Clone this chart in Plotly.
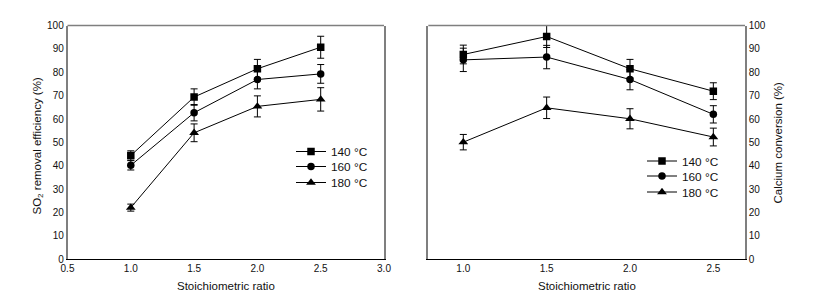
import plotly.graph_objects as go

ratio = [1.0, 1.5, 2.0, 2.5]
temps = ["140 °C", "160 °C", "180 °C"]
symbols = ["square", "circle", "triangle-up"]

so2_140 = [44.4, 69.4, 81.5, 90.7]
so2_160 = [40.2, 62.7, 76.9, 79.3]
so2_180 = [22.1, 54.1, 65.4, 68.4]
so2_err_140 = [2.0, 3.5, 4.0, 4.7]
so2_err_160 = [2.0, 3.5, 4.0, 4.0]
so2_err_180 = [1.5, 3.8, 4.5, 5.0]

ca_140 = [87.6, 95.3, 81.5, 71.9]
ca_160 = [85.3, 86.5, 76.9, 62.0]
ca_180 = [50.1, 64.8, 60.1, 52.3]
ca_err_140 = [4.0, 4.7, 4.0, 3.6]
ca_err_160 = [5.0, 5.0, 4.4, 3.7]
ca_err_180 = [3.3, 4.6, 4.3, 3.8]

so2 = [so2_140, so2_160, so2_180]
so2_err = [so2_err_140, so2_err_160, so2_err_180]
ca = [ca_140, ca_160, ca_180]
ca_err = [ca_err_140, ca_err_160, ca_err_180]

y_ticks = list(range(0, 101, 10))
x_ticks_left = [0.5, 1.0, 1.5, 2.0, 2.5, 3.0]
x_ticks_right = [1.0, 1.5, 2.0, 2.5]

FONT = "Liberation Sans, Arial, sans-serif"
TXT = "#111111"
FRAME = "#7f7f7f"

W, H = 818, 307
OX, OY = 8, 8  # page body margin offset


def px(x):
    return (x - OX) / W


def py(y):
    return 1 - (y - OY) / H


xl = [px(67.5), px(384.0)]
xr = [px(428.3), px(745.0)]
yd = [py(259.3), py(25.5)]

fig = go.Figure()

legend_names_left = ["legend", "legend2", "legend3"]
legend_names_right = ["legend4", "legend5", "legend6"]
marker_sizes = [7.5, 7.5, 8.5]

for i in range(3):
    fig.add_trace(go.Scatter(
        x=ratio, y=so2[i], mode="lines+markers", name=temps[i],
        line=dict(color="black", width=1),
        marker=dict(symbol=symbols[i], size=marker_sizes[i], color="black"),
        error_y=dict(type="data", array=so2_err[i], color="black", thickness=1, width=3.5),
        xaxis="x", yaxis="y", legend=legend_names_left[i],
    ))
for i in range(3):
    fig.add_trace(go.Scatter(
        x=ratio, y=ca[i], mode="lines+markers", name=temps[i],
        line=dict(color="black", width=1),
        marker=dict(symbol=symbols[i], size=marker_sizes[i], color="black"),
        error_y=dict(type="data", array=ca_err[i], color="black", thickness=1, width=3.5),
        xaxis="x2", yaxis="y2", legend=legend_names_right[i],
    ))

tickfont = dict(family=FONT, size=10, color=TXT)
TITLE_SIZE = 11.5
LEG_SIZE = 11.8

layout = dict(
    width=W, height=H,
    margin=dict(l=0, r=0, t=0, b=0, autoexpand=False),
    paper_bgcolor="white", plot_bgcolor="white",
    showlegend=True,
    font=dict(family=FONT, color=TXT),
    xaxis=dict(domain=xl, range=[0.5, 3.0], tickvals=x_ticks_left,
               ticktext=[f"{v:.1f}" for v in x_ticks_left], automargin=False,
               showgrid=False, zeroline=False, showline=True, linecolor="black",
               linewidth=1, ticks="", tickfont=tickfont, anchor="y"),
    yaxis=dict(domain=yd, range=[0, 100], tickvals=y_ticks, automargin=False,
               showgrid=False, zeroline=False, showline=True, linecolor=FRAME,
               linewidth=1.5, mirror=True, ticks="", tickfont=tickfont, anchor="x"),
    xaxis2=dict(domain=xr, range=[0.79, 2.69], tickvals=x_ticks_right,
                ticktext=[f"{v:.1f}" for v in x_ticks_right], automargin=False,
                showgrid=False, zeroline=False, showline=True, linecolor="black",
                linewidth=1, ticks="", tickfont=tickfont, anchor="y2"),
    yaxis2=dict(domain=yd, range=[0, 100], tickvals=y_ticks, side="right", automargin=False,
                showgrid=False, zeroline=False, showline=True, linecolor=FRAME,
                linewidth=1.5, mirror=True, ticks="", tickfont=tickfont, anchor="x2"),
)

left_rows = [151.5, 166.5, 182.5]
right_rows = [161.0, 176.0, 192.0]
for i in range(3):
    layout[legend_names_left[i]] = dict(
        x=px(291), y=py(left_rows[i]), xanchor="left", yanchor="middle",
        bgcolor="rgba(0,0,0,0)", font=dict(family=FONT, size=LEG_SIZE, color=TXT))
    layout[legend_names_right[i]] = dict(
        x=px(642), y=py(right_rows[i]), xanchor="left", yanchor="middle",
        bgcolor="rgba(0,0,0,0)", font=dict(family=FONT, size=LEG_SIZE, color=TXT))

fig.update_layout(**layout)

fig.add_shape(type="line", xref="x domain", yref="y domain", x0=0, x1=1, y0=1, y1=1,
              line=dict(color=FRAME, width=1.5))
fig.add_shape(type="line", xref="x2 domain", yref="y2 domain", x0=0, x1=1, y0=1, y1=1,
              line=dict(color=FRAME, width=1.5))

fig.add_annotation(text="Stoichiometric ratio", xref="x domain", yref="paper",
                   x=0.5, y=py(286), showarrow=False, yanchor="middle",
                   font=dict(family=FONT, size=TITLE_SIZE, color=TXT))
fig.add_annotation(text="Stoichiometric ratio", xref="x2 domain", yref="paper",
                   x=0.5, y=py(286), showarrow=False, yanchor="middle",
                   font=dict(family=FONT, size=TITLE_SIZE, color=TXT))
fig.add_annotation(text="SO<sub>2</sub> removal efficiency (%)", xref="paper", yref="paper",
                   x=px(37.5), y=py(146), showarrow=False, textangle=-90,
                   xanchor="center", yanchor="middle",
                   font=dict(family=FONT, size=TITLE_SIZE, color=TXT))
fig.add_annotation(text="Calcium conversion (%)", xref="paper", yref="paper",
                   x=px(777.5), y=py(143), showarrow=False, textangle=-90,
                   xanchor="center", yanchor="middle",
                   font=dict(family=FONT, size=TITLE_SIZE, color=TXT))

fig.write_html("out.html")
